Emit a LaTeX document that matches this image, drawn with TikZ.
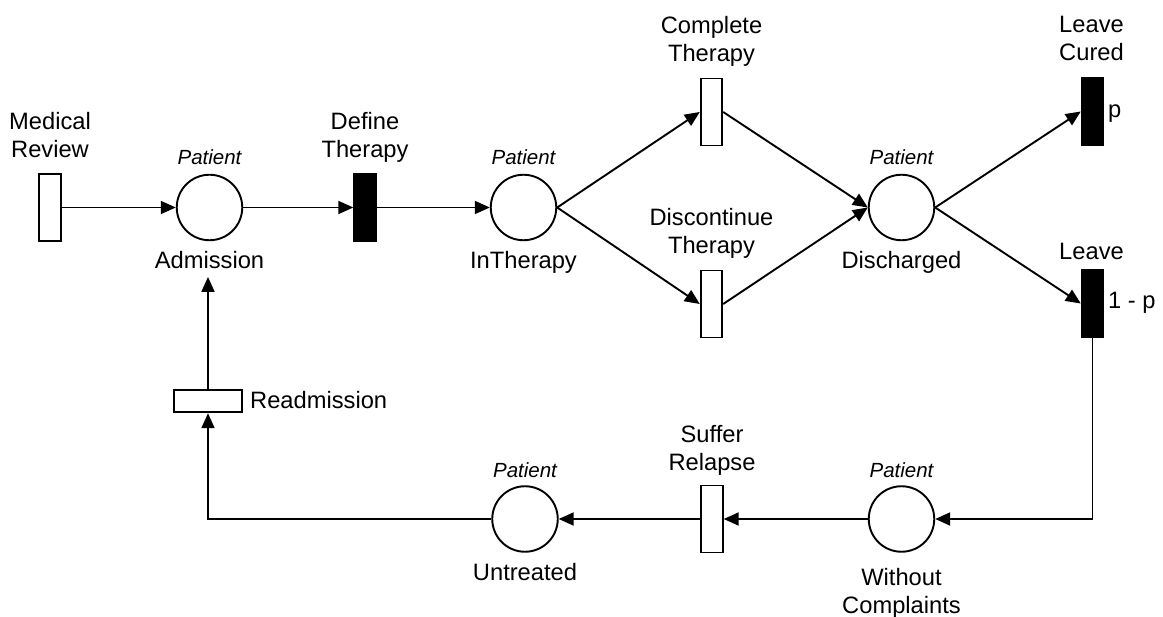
\documentclass[tikz,border=0pt]{standalone}
\usepackage{fontspec}
\setmainfont{Liberation Sans}
\usetikzlibrary{arrows.meta}
\begin{document}
\begin{tikzpicture}[x=1pt,y=-1pt,
  every node/.style={inner sep=0pt},
  place/.style={circle,draw,line width=1.9pt,minimum size=65.5pt,fill=white},
  trans/.style={rectangle,draw,line width=1.9pt,minimum width=21.5pt,minimum height=67pt,fill=white},
  transb/.style={trans,fill=black},
  htrans/.style={rectangle,draw,line width=1.9pt,minimum width=67.5pt,minimum height=22.5pt,fill=white},
  lbl/.style={font=\fontsize{23.7}{28}\selectfont,align=center},
  typ/.style={font=\fontsize{20.5}{24}\selectfont\itshape,anchor=base},
  arc/.style={line width=1.9pt,-{Triangle[length=15pt,width=13pt]}},
]
\useasboundingbox (0,0) rectangle (1163,617);
% places
\node[place] (adm) at (209.5,207.5) {};
\node[place] (inth) at (523.5,207.5) {};
\node[place] (dis) at (901.5,207.5) {};
\node[place] (wc) at (901.5,519) {};
\node[place] (unt) at (525,519) {};
% transitions
\node[trans] (mr) at (50,207.5) {};
\node[transb] (dt) at (365,207.5) {};
\node[trans] (ct) at (711.5,112) {};
\node[trans] (dct) at (711.5,304) {};
\node[transb] (lc) at (1092.5,111.5) {};
\node[transb] (lv) at (1092.5,303.5) {};
\node[trans] (sr) at (712,519) {};
\node[htrans] (readm) at (208,401) {};
% type labels
\node[typ] (tadm) at (209.5,165) {Patient};
\node[typ] (tinth) at (523.5,165) {Patient};
\node[typ] (tdis) at (901.5,165) {Patient};
\node[typ] (twc) at (901.5,477.5) {Patient};
\node[typ] (tunt) at (525,477.5) {Patient};
% place names
\node[lbl,anchor=base] (admlbl) at (209.5,268.5) {Admission};
\node[lbl,anchor=base] (inthlbl) at (523.5,268.5) {InTherapy};
\node[lbl,anchor=base] (dislbl) at (901.5,268.5) {Discharged};
\node[lbl,anchor=base] (untlbl) at (525,580.5) {Untreated};
\node[lbl] (wclbl) at (901.5,593) {Without\\Complaints};
% transition names
\node[lbl] (mrlbl) at (50,135) {Medical\\Review};
\node[lbl] (dtlbl) at (365,137.5) {Define\\Therapy};
\node[lbl] (ctlbl) at (711.5,41.3) {Complete\\Therapy};
\node[lbl] (dctlbl) at (711.5,233.4) {Discontinue\\Therapy};
\node[lbl] (lclbl) at (1091.5,38.9) {Leave\\Cured};
\node[lbl,anchor=base] (lvlbl) at (1091.5,259.3) {Leave};
\node[lbl] (srlbl) at (712,450) {Suffer\\Relapse};
\node[lbl,anchor=base west] (readmlbl) at (250,409) {Readmission};
\node[lbl,anchor=base west] (plbl) at (1108,117.5) {p};
\node[lbl,anchor=base west] (qlbl) at (1108,308.3) {1 - p};
% arcs
\draw[arc] (mr.east) -- (adm.west);
\draw[arc] (adm.east) -- (dt.west);
\draw[arc] (dt.east) -- (inth.west);
\draw[arc] (inth.east) -- (ct.west);
\draw[arc] (inth.east) -- (dct.west);
\draw[arc] (ct.east) -- (dis.west);
\draw[arc] (dct.east) -- (dis.west);
\draw[arc] (dis.east) -- (lc.west);
\draw[arc] (dis.east) -- (lv.west);
\draw[arc] (lv.south) |- (wc.east);
\draw[arc] (wc.west) -- (sr.east);
\draw[arc] (sr.west) -- (unt.east);
\draw[arc] (unt.west) -| (readm.south);
\path (admlbl.south) ++(0,8) coordinate (admtip);
\draw[arc] (readm.north) -- (readm.north |- admtip);
\end{tikzpicture}
\end{document}
